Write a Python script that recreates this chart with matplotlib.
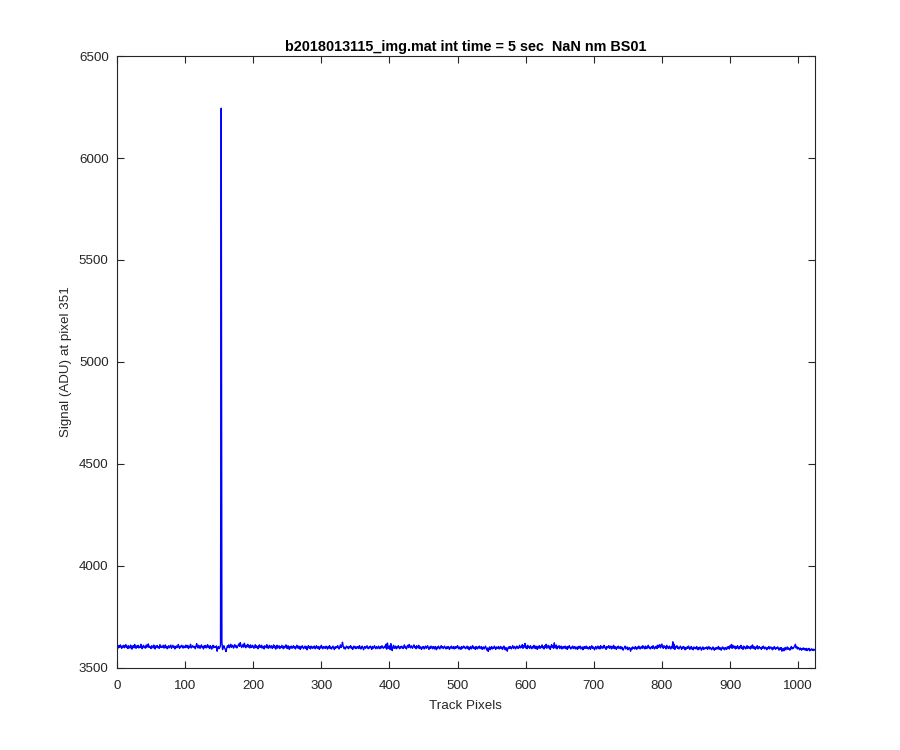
import numpy as np
import matplotlib
matplotlib.use('Agg')
import matplotlib.pyplot as plt

# signal along the track at pixel 351 (ADU)
signal = [
  3604, 3596, 3608, 3599, 3611, 3601, 3594, 3606, 3600, 3609, 3597, 3603, 3612, 3598, 3605, 3593,
  3607, 3601, 3595, 3610, 3602, 3590, 3604, 3608, 3597, 3613, 3600, 3594, 3606, 3599, 3609, 3596,
  3603, 3598, 3614, 3601, 3592, 3605, 3609, 3597, 3602, 3595, 3611, 3600, 3606, 3616, 3598, 3604,
  3599, 3593, 3607, 3601, 3596, 3610, 3603, 3591, 3605, 3600, 3608, 3597, 3602, 3594, 3612, 3599,
  3605, 3598, 3602, 3609, 3595, 3601, 3611, 3596, 3604, 3592, 3600, 3607, 3597, 3603, 3610, 3594,
  3602, 3609, 3598, 3604, 3591, 3600, 3606, 3597, 3601, 3613, 3599, 3594, 3605, 3600, 3609, 3603,
  3595, 3606, 3601, 3597, 3610, 3603, 3598, 3608, 3593, 3604, 3600, 3614, 3596, 3602, 3607, 3599,
  3604, 3601, 3592, 3606, 3617, 3602, 3596, 3609, 3600, 3594, 3605, 3611, 3598, 3603, 3591, 3607,
  3600, 3608, 3596, 3602, 3612, 3598, 3605, 3593, 3607, 3601, 3590, 3603, 3609, 3597, 3604, 3600,
  3598, 3606, 3580, 3596, 3603, 3593, 3599, 3610, 6245, 3625, 3588, 3602, 3607, 3596, 3589, 3578,
  3594, 3606, 3600, 3611, 3597, 3603, 3614, 3599, 3604, 3609, 3595, 3602, 3612, 3600, 3607, 3596,
  3602, 3610, 3616, 3604, 3622, 3608, 3598, 3606, 3613, 3600, 3619, 3605, 3597, 3609, 3602, 3614,
  3600, 3607, 3596, 3611, 3602, 3598, 3609, 3604, 3594, 3603, 3612, 3597, 3606, 3600, 3592, 3605,
  3611, 3598, 3603, 3609, 3595, 3605, 3600, 3591, 3607, 3602, 3597, 3612, 3600, 3594, 3605, 3609,
  3596, 3603, 3607, 3593, 3600, 3611, 3597, 3605, 3590, 3603, 3609, 3595, 3601, 3607, 3593, 3602,
  3598, 3609, 3600, 3592, 3605, 3596, 3602, 3611, 3597, 3593, 3607, 3600, 3589, 3603, 3596, 3605,
  3594, 3601, 3607, 3596, 3603, 3591, 3599, 3609, 3600, 3594, 3605, 3598, 3589, 3603, 3596, 3607,
  3600, 3592, 3599, 3605, 3594, 3603, 3587, 3598, 3607, 3596, 3601, 3591, 3605, 3598, 3594, 3603,
  3596, 3605, 3592, 3600, 3607, 3594, 3599, 3603, 3589, 3601, 3596, 3609, 3597, 3592, 3603, 3596,
  3601, 3594, 3605, 3598, 3590, 3603, 3596, 3607, 3593, 3600, 3591, 3598, 3605, 3596, 3588, 3601,
  3594, 3603, 3598, 3607, 3596, 3591, 3601, 3611, 3598, 3605, 3624, 3606, 3594, 3600, 3590, 3598,
  3605, 3596, 3601, 3592, 3603, 3598, 3607, 3594, 3600, 3589, 3598, 3605, 3596, 3602, 3592, 3601,
  3596, 3603, 3593, 3607, 3598, 3591, 3600, 3605, 3596, 3587, 3599, 3603, 3594, 3601, 3607, 3596,
  3592, 3601, 3596, 3605, 3598, 3589, 3603, 3594, 3600, 3607, 3596, 3592, 3603, 3598, 3593, 3605,
  3598, 3592, 3603, 3596, 3607, 3600, 3594, 3599, 3605, 3596, 3614, 3590, 3620, 3601, 3594, 3606,
  3588, 3617, 3602, 3583, 3600, 3609, 3594, 3599, 3605, 3592, 3601, 3596, 3607, 3598, 3592, 3603,
  3596, 3605, 3598, 3593, 3603, 3611, 3596, 3600, 3591, 3605, 3609, 3598, 3613, 3602, 3596, 3607,
  3600, 3594, 3605, 3611, 3598, 3603, 3592, 3607, 3600, 3596, 3609, 3593, 3602, 3598, 3589, 3601,
  3596, 3603, 3591, 3598, 3605, 3594, 3600, 3607, 3596, 3589, 3601, 3594, 3605, 3598, 3592, 3603,
  3598, 3591, 3603, 3596, 3587, 3601, 3594, 3605, 3598, 3591, 3600, 3607, 3596, 3603, 3593, 3599,
  3605, 3596, 3591, 3601, 3594, 3603, 3598, 3589, 3600, 3596, 3605, 3593, 3598, 3603, 3591, 3601,
  3594, 3603, 3596, 3607, 3598, 3591, 3601, 3596, 3589, 3603, 3594, 3598, 3605, 3596, 3600, 3592,
  3598, 3605, 3593, 3601, 3587, 3596, 3603, 3591, 3598, 3607, 3594, 3601, 3596, 3589, 3603, 3598,
  3591, 3601, 3596, 3605, 3593, 3598, 3603, 3589, 3596, 3601, 3591, 3598, 3605, 3594, 3585, 3596,
  3579, 3594, 3601, 3587, 3596, 3603, 3591, 3598, 3594, 3605, 3596, 3589, 3601, 3593, 3598, 3603,
  3591, 3596, 3603, 3593, 3600, 3589, 3598, 3605, 3593, 3587, 3598, 3591, 3580, 3596, 3601, 3594,
  3603, 3596, 3591, 3601, 3607, 3594, 3598, 3603, 3591, 3596, 3605, 3598, 3593, 3601, 3609, 3596,
  3603, 3598, 3612, 3594, 3607, 3600, 3618, 3596, 3605, 3592, 3609, 3598, 3603, 3594, 3607, 3600,
  3592, 3603, 3596, 3609, 3598, 3593, 3605, 3600, 3589, 3603, 3596, 3607, 3594, 3601, 3598, 3611,
  3596, 3603, 3591, 3607, 3598, 3614, 3594, 3601, 3609, 3596, 3605, 3589, 3603, 3612, 3598, 3607,
  3594, 3621, 3600, 3596, 3610, 3591, 3603, 3598, 3607, 3593, 3600, 3605, 3591, 3598, 3603, 3594,
  3598, 3605, 3593, 3601, 3589, 3603, 3596, 3607, 3598, 3591, 3600, 3596, 3605, 3593, 3598, 3603,
  3591, 3600, 3596, 3589, 3603, 3594, 3598, 3605, 3591, 3596, 3601, 3587, 3598, 3603, 3593, 3598,
  3605, 3593, 3600, 3591, 3596, 3603, 3589, 3598, 3607, 3594, 3601, 3596, 3587, 3598, 3603, 3591,
  3598, 3605, 3593, 3601, 3591, 3607, 3596, 3603, 3594, 3598, 3609, 3596, 3600, 3589, 3603, 3596,
  3600, 3607, 3594, 3598, 3605, 3591, 3601, 3596, 3609, 3593, 3603, 3598, 3589, 3601, 3596, 3605,
  3593, 3598, 3603, 3591, 3601, 3596, 3585, 3594, 3598, 3605, 3591, 3596, 3601, 3587, 3594, 3598,
  3591, 3580, 3596, 3589, 3601, 3594, 3598, 3591, 3603, 3596, 3589, 3600, 3594, 3605, 3596, 3591,
  3598, 3603, 3594, 3607, 3596, 3601, 3591, 3605, 3598, 3593, 3603, 3609, 3596, 3600, 3591, 3598,
  3603, 3594, 3607, 3598, 3591, 3601, 3596, 3605, 3593, 3610, 3598, 3603, 3612, 3596, 3605, 3615,
  3600, 3594, 3607, 3598, 3603, 3591, 3609, 3596, 3601, 3593, 3605, 3598, 3591, 3603, 3596, 3626,
  3593, 3614, 3589, 3603, 3598, 3607, 3594, 3600, 3591, 3598, 3605, 3596, 3589, 3601, 3594, 3603,
  3596, 3587, 3598, 3591, 3601, 3594, 3605, 3596, 3589, 3598, 3603, 3591, 3596, 3587, 3601, 3594,
  3598, 3591, 3603, 3594, 3587, 3598, 3591, 3601, 3596, 3585, 3594, 3601, 3589, 3596, 3591, 3598,
  3594, 3601, 3589, 3596, 3603, 3591, 3598, 3594, 3587, 3596, 3601, 3591, 3585, 3596, 3589, 3598,
  3591, 3596, 3603, 3589, 3598, 3594, 3585, 3596, 3601, 3591, 3596, 3587, 3598, 3594, 3589, 3601,
  3596, 3603, 3591, 3607, 3598, 3613, 3594, 3609, 3600, 3596, 3605, 3591, 3601, 3594, 3607, 3598,
  3591, 3603, 3596, 3609, 3594, 3600, 3589, 3605, 3596, 3601, 3591, 3598, 3607, 3594, 3603, 3596,
  3600, 3591, 3605, 3596, 3611, 3594, 3603, 3598, 3589, 3601, 3596, 3607, 3591, 3598, 3603, 3594,
  3598, 3589, 3601, 3594, 3605, 3596, 3591, 3600, 3596, 3587, 3598, 3594, 3603, 3591, 3596, 3601,
  3594, 3587, 3598, 3591, 3603, 3596, 3589, 3598, 3594, 3601, 3591, 3585, 3596, 3589, 3598, 3580,
  3586, 3594, 3582, 3591, 3598, 3587, 3594, 3601, 3589, 3596, 3591, 3585, 3596, 3603, 3591, 3598,
  3594, 3601, 3609, 3614, 3596, 3603, 3591, 3598, 3594, 3587, 3596, 3591, 3585, 3594, 3589, 3596,
  3587, 3593, 3585, 3594, 3583, 3591, 3587, 3594, 3582, 3589, 3585, 3592, 3587, 3583, 3590, 3586,
]
xticks = [0, 100, 200, 300, 400, 500, 600, 700, 800, 900, 1000]
yticks = [3500, 4000, 4500, 5000, 5500, 6000, 6500]
title = 'b2018013115_img.mat int time = 5 sec  NaN nm BS01'

plt.rcParams['font.family'] = ['Liberation Sans', 'DejaVu Sans']
axcol = (0.15, 0.15, 0.15)

fig = plt.figure(figsize=(9, 7.5), dpi=100)
ax = fig.add_axes([0.13, 0.11, 0.775, 0.815])

pix = np.arange(1, len(signal) + 1)
ax.plot(pix, signal, color=(0, 0, 1), linewidth=1.0)

ax.set_xlim(0, 1024)
ax.set_ylim(3500, 6500)
ax.set_xticks(xticks)
ax.set_yticks(yticks)
ax.tick_params(direction='in', top=True, right=True, length=5, width=0.8,
  color=axcol, labelcolor=axcol, labelsize=9.6)
ax.tick_params(axis='x', pad=9)
ax.tick_params(axis='y', pad=6)
for s in ax.spines.values():
  s.set_color(axcol)
  s.set_linewidth(0.8)

ax.set_xlabel('Track Pixels', fontsize=9.6, color=axcol, labelpad=6)
ax.set_ylabel('Signal (ADU) at pixel 351', fontsize=9.6, color=axcol, labelpad=5)
ax.set_title(title, fontsize=10.4, fontweight='bold', color='black', pad=3.5)

fig.savefig('out.png', dpi=100)
